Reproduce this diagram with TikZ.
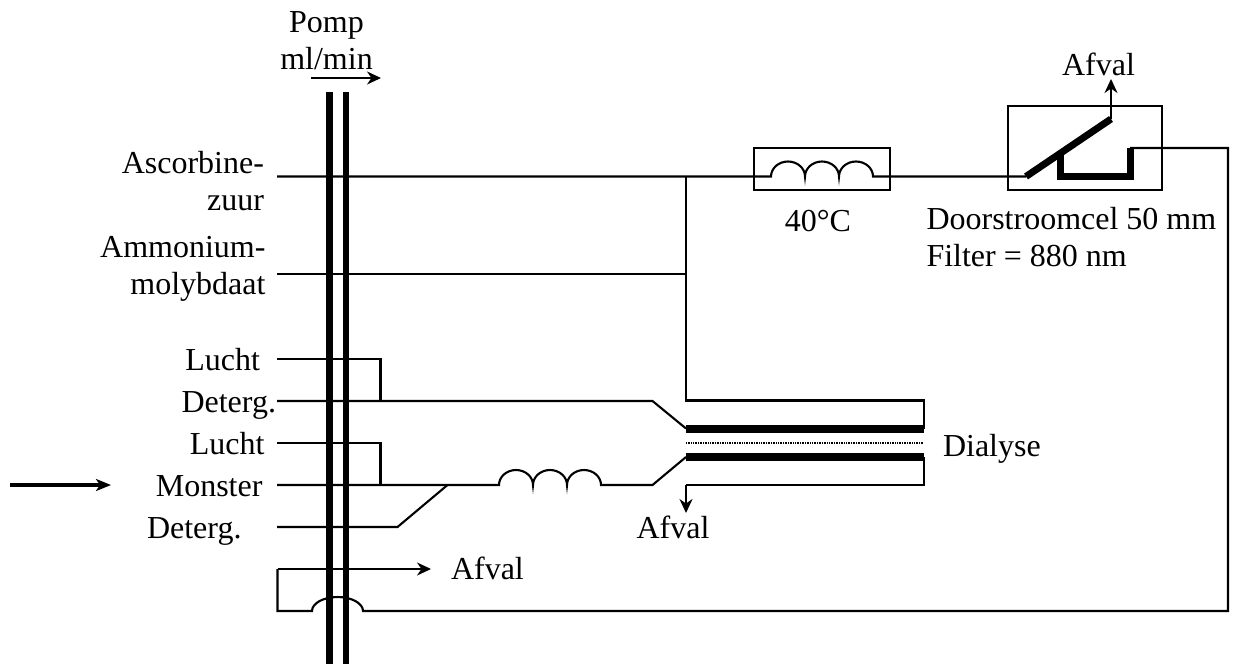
\documentclass[tikz,border=0pt]{standalone}
\usepackage{fontspec}
\setmainfont{Liberation Serif}
\usetikzlibrary{arrows.meta}
\tikzset{
  pipe/.style={line width=2.1pt,line cap=butt,line join=miter},
  flow/.style={pipe,-{Stealth[length=14pt,width=13pt,inset=4.5pt]}},
  heavy/.style={line width=6.5pt,line cap=butt,line join=miter},
  frame/.style={line width=2pt},
  lbl/.style={font=\fontsize{32}{37}\selectfont,inner sep=0pt,outer sep=0pt},
  rlbl/.style={lbl,anchor=base east,align=right},
  llbl/.style={lbl,anchor=base west,align=left},
  clbl/.style={lbl,anchor=base,align=center}
}
\newcommand{\coilthree}{arc[start angle=180,end angle=0,x radius=17pt,y radius=15pt] arc[start angle=180,end angle=0,x radius=17pt,y radius=15pt] arc[start angle=180,end angle=0,x radius=17pt,y radius=15pt]}
\begin{document}
\begin{tikzpicture}[x=1pt,y=-1pt]
\useasboundingbox (0,0) rectangle (1246,664);
% coordinates
\coordinate (pa1) at (329.5,92); \coordinate (pa2) at (329.5,664);
\coordinate (pb1) at (346,92); \coordinate (pb2) at (346,664);
\coordinate (ascS) at (277,176.5); \coordinate (hbIn) at (771,176.5); \coordinate (hbOut) at (873,176.5);
\coordinate (cellIn) at (1026,176.5); \coordinate (cellT) at (1111,119);
\coordinate (amS) at (277,274); \coordinate (jA) at (686,274); \coordinate (jT) at (686,176.5);
\coordinate (cellOut) at (1130,148); \coordinate (rT) at (1228,148); \coordinate (rB) at (1228,611);
\coordinate (bumpR) at (363,611); \coordinate (bumpL) at (312,611);
\coordinate (retBL) at (277.5,611); \coordinate (retTL) at (277.5,569); \coordinate (retA) at (431,569);
\coordinate (dTopL) at (686,400.5); \coordinate (dTopR) at (924,400.5);
\coordinate (dBarTR) at (924,428.5); \coordinate (dBarTL) at (686,428.5);
\coordinate (dBarBL) at (686,457); \coordinate (dBarBR) at (924,457);
\coordinate (dBotR) at (924,485); \coordinate (dBotL) at (686,485); \coordinate (dWaste) at (686,513);
\coordinate (dMidL) at (686,442.8); \coordinate (dMidR) at (923,442.8);
\coordinate (l1S) at (277,359); \coordinate (l1C) at (380.5,359); \coordinate (l1E) at (380.5,401);
\coordinate (deS) at (277,401); \coordinate (deK) at (652.5,401);
\coordinate (l2S) at (277,443); \coordinate (l2C) at (380.5,443); \coordinate (l2E) at (380.5,485);
\coordinate (moS) at (277,485); \coordinate (coIn) at (499,485); \coordinate (coOut) at (601,485); \coordinate (moK) at (652.5,485);
\coordinate (d2S) at (277,527); \coordinate (d2K) at (397.5,527); \coordinate (d2E) at (447.5,485);
\coordinate (inS) at (10,485); \coordinate (inE) at (111,485);
\coordinate (pumpS) at (311,78); \coordinate (pumpE) at (381,78);
\coordinate (wasteTop) at (1111,79);
\coordinate (uA) at (1060,155); \coordinate (uB) at (1060,176.5); \coordinate (uC) at (1130,176.5);
% boxes
\draw[frame] (753.5,148) rectangle (890,190);
\draw[frame] (1008,106) rectangle (1162,190);
% pipes
\draw[pipe] (ascS) -- (hbIn) \coilthree -- (hbOut) -- (cellIn);
\draw[pipe] (amS) -- (jA);
\draw[pipe] (jT) -- (dTopL) -- (dTopR) -- (dBarTR);
\draw[pipe] (dBarBR) -- (dBotR) -- (dBotL);
\draw[flow] (dBotL) -- (dWaste);
\draw[pipe] (l1S) -- (l1C) -- (l1E);
\draw[pipe] (deS) -- (deK) -- (dBarTL);
\draw[pipe] (l2S) -- (l2C) -- (l2E);
\draw[pipe] (moS) -- (coIn) \coilthree -- (moK) -- (dBarBL);
\draw[pipe] (d2S) -- (d2K) -- (d2E);
\draw[pipe] (cellOut) -- (rT) -- (rB) -- (bumpR) arc[start angle=0,end angle=180,x radius=25.5pt,y radius=14pt] -- (retBL) -- (retTL);
\draw[flow] (retTL) -- (retA);
\draw[flow] (cellT) -- (wasteTop);
\draw[flow] (pumpS) -- (pumpE);
\draw[pipe,line width=3.4pt,-{Stealth[length=15pt,width=12pt,inset=4pt]}] (inS) -- (inE);
% heavy
\draw[heavy] (pa1) -- (pa2);
\draw[heavy] (pb1) -- (pb2);
\draw[heavy,line width=8pt] (dBarTL) -- (dBarTR);
\draw[heavy,line width=8pt] (dBarBL) -- (dBarBR);
\draw[line width=1.8pt,dash pattern=on 1pt off 0.7pt] (dMidL) -- (dMidR);
\draw[heavy,line width=7pt] (cellIn) -- (cellT);
\draw[heavy,line width=7pt] (uA) -- (uB) -- (uC) -- (cellOut);
% labels
\node[clbl] (tPump) at (326.5,69.5) {Pomp\\ml/min};
\node[rlbl] (tAsc) at (264,210) {Ascorbine-\\zuur};
\node[rlbl] (tAm) at (265.5,294) {Ammonium-\\molybdaat};
\node[rlbl] (tL1) at (260,370) {Lucht};
\node[rlbl] (tD1) at (276,412) {Deterg.};
\node[rlbl] (tL2) at (264.5,454) {Lucht};
\node[rlbl] (tMo) at (262.5,496) {Monster};
\node[rlbl] (tD2) at (241.5,538) {Deterg.};
\node[clbl] (t40) at (818,231) {40°C};
\node[llbl] (tCell) at (926.5,266) {Doorstroomcel 50 mm\\Filter = 880 nm};
\node[clbl] (tW1) at (1098.5,75) {Afval};
\node[llbl] (tDia) at (943,456) {Dialyse};
\node[clbl] (tW2) at (673,538) {Afval};
\node[llbl] (tW3) at (451,579) {Afval};
\end{tikzpicture}
\end{document}
